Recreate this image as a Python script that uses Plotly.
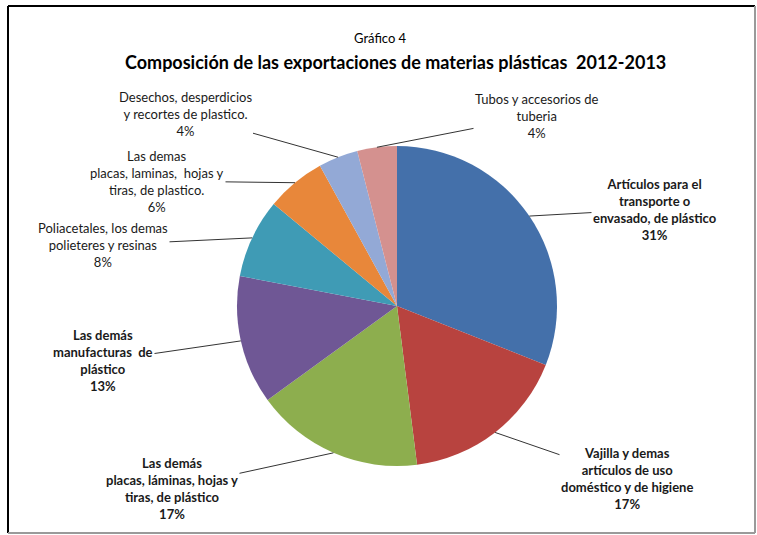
import numpy as np
import plotly.graph_objects as go

# datos del gráfico (porcentajes por categoría)
labels = [
    'Artículos para el<br>transporte o<br>envasado, de plástico',
    'Vajilla y demas<br>artículos de uso<br>doméstico y de higiene',
    'Las demás<br>placas, láminas, hojas y<br>tiras, de plástico',
    'Las demás<br>manufacturas  de<br>plástico',
    'Poliacetales, los demas<br>polieteres y resinas',
    'Las demas<br>placas, laminas,  hojas y<br>tiras, de plastico.',
    'Desechos, desperdicios<br>y recortes de plastico.',
    'Tubos y accesorios de<br>tuberia',
]
values = [31, 17, 17, 13, 8, 6, 4, 4]
bold = [True, True, True, True, False, False, False, False]
colors = ['#4470AA', '#B8433F', '#8DAE4E', '#6F5795', '#3F9BB5', '#E8873A', '#93A9D6', '#D4918F']

W, H = 757, 535
CX, CY, R = 397, 306, 160          # centro y radio del pie en px (y desde arriba)

# posiciones de las etiquetas (centro del texto, px)
label_pos = [(655, 209), (627, 478), (172, 488), (103, 361),
             (103, 245), (157, 181), (185, 114), (537, 116)]

fig = go.Figure()

fig.add_trace(
    go.Pie(
        labels=[l.replace('<br>', ' ') for l in labels],
        values=values,
        sort=False,
        direction='clockwise',
        rotation=0,
        textinfo='none',
        marker=dict(colors=colors, line=dict(width=0)),
        domain=dict(
            x=[(CX - R) / W, (CX + R) / W],
            y=[(H - CY - R) / H, (H - CY + R) / H],
        ),
        showlegend=False,
    )
)

total = sum(values)
cum = np.cumsum([0] + values[:-1])
annotations = []
for i, (lab, v) in enumerate(zip(labels, values)):
    theta = 2 * np.pi * (cum[i] + v / 2) / total
    tx = CX + R * np.sin(theta)
    ty = CY - R * np.cos(theta)
    pct = f'{round(100 * v / total)}%'
    txt = f'{lab}<br>{pct}'
    if bold[i]:
        txt = '<b>' + txt.replace('<br>', '</b><br><b>') + '</b>'
    lx, ly = label_pos[i]
    annotations.append(dict(
        x=tx / W, y=1 - ty / H, xref='paper', yref='paper',
        ax=lx - tx, ay=ly - ty,
        text=txt, showarrow=True, arrowhead=0, arrowwidth=1,
        arrowcolor='#333333', standoff=0,
        align='center', font=dict(size=13, color='#1a1a1a'),
    ))

annotations.append(dict(
    x=380 / W, y=1 - 28 / H, xref='paper', yref='paper', showarrow=False,
    text='Gráfico 4', font=dict(size=13, color='#000000'),
))
annotations.append(dict(
    x=395 / W, y=1 - 49 / H, xref='paper', yref='paper', showarrow=False,
    text='<b>Composición de las exportaciones de materias plásticas  2012-2013</b>',
    font=dict(size=18, color='#000000'),
))

shapes = [
    dict(type='line', xref='paper', yref='paper', x0=8 / W, x1=755 / W, y0=1 - 6 / H, y1=1 - 6 / H,
         line=dict(color='#000000', width=2)),
    dict(type='line', xref='paper', yref='paper', x0=8 / W, x1=8 / W, y0=1 - 6 / H, y1=1 - 533 / H,
         line=dict(color='#000000', width=2)),
    dict(type='line', xref='paper', yref='paper', x0=755 / W, x1=755 / W, y0=1 - 6 / H, y1=1 - 533 / H,
         line=dict(color='#9a9a9a', width=2)),
    dict(type='line', xref='paper', yref='paper', x0=8 / W, x1=755 / W, y0=1 - 533 / H, y1=1 - 533 / H,
         line=dict(color='#9a9a9a', width=2)),
]

fig.update_layout(
    width=W,
    height=H,
    margin=dict(l=0, r=0, t=0, b=0),
    paper_bgcolor='white',
    plot_bgcolor='white',
    font=dict(family='Lato, Open Sans, sans-serif'),
    annotations=annotations,
    shapes=shapes,
)

# sin margen del body para que la figura ocupe la ventana exacta
fig.write_html("out.html", config={'displayModeBar': False},
               post_script="document.body.style.margin='0';")
